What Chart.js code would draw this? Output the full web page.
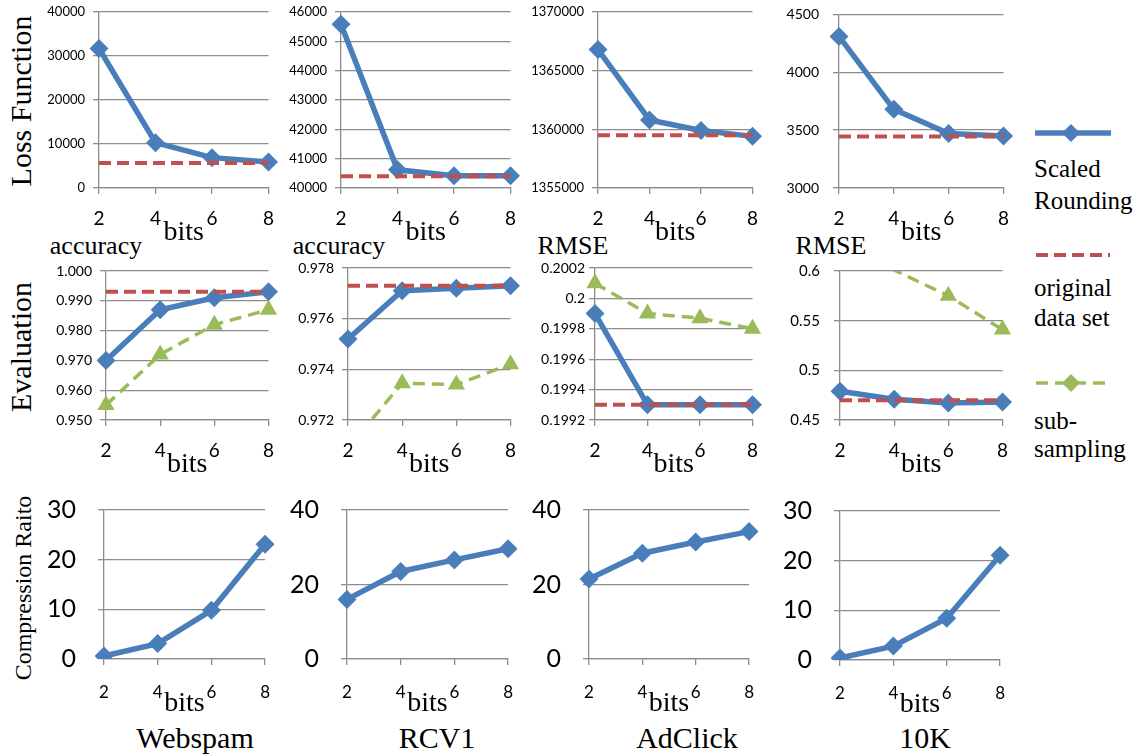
<!DOCTYPE html>
<html>
<head>
<meta charset="utf-8">
<script src="https://cdn.jsdelivr.net/npm/chart.js@4.4.0/dist/chart.umd.min.js"></script>
<style>
  body { margin: 0; width: 1143px; height: 755px; position: relative; overflow: hidden; background: #fff;
         font-family: "Liberation Serif", "Times New Roman", serif; color: #000; }
  canvas { position: absolute; }
  .c { position: absolute; transform: translate(-50%, -50%); white-space: nowrap; line-height: 1; }
  .rot { position: absolute; transform: translate(-50%, -50%) rotate(-90deg); white-space: nowrap; line-height: 1; }
  .lg { position: absolute; left: 1034px; white-space: nowrap; line-height: 1; font-size: 25px; transform: translateY(-50%); }
</style>
</head>
<body>

<div class="rot" style="left:21px;top:101px;font-size:30px">Loss Function</div>
<div class="rot" style="left:21px;top:347px;font-size:30px">Evaluation</div>
<div class="rot" style="left:23px;top:588px;font-size:24px">Compression Raito</div>

<div class="c" style="left:96px;top:246px;font-size:26px">accuracy</div>
<div class="c" style="left:339px;top:246px;font-size:26px">accuracy</div>
<div class="c" style="left:573px;top:246px;font-size:26px">RMSE</div>
<div class="c" style="left:831px;top:246px;font-size:26px">RMSE</div>

<div class="c" style="left:195px;top:738px;font-size:30px">Webspam</div>
<div class="c" style="left:437px;top:738px;font-size:30px">RCV1</div>
<div class="c" style="left:687px;top:738px;font-size:30px">AdClick</div>
<div class="c" style="left:925px;top:738px;font-size:30px">10K</div>

<svg style="position:absolute;left:1030px;top:0" width="113" height="460">
  <line x1="5" y1="133" x2="81" y2="133" stroke="#4a7ebb" stroke-width="5.5"/>
  <polygon points="41,124 50,133 41,142 32,133" fill="#4a7ebb"/>
  <line x1="6" y1="255" x2="80" y2="255" stroke="#c0504d" stroke-width="4" stroke-dasharray="12 6"/>
  <line x1="6" y1="383" x2="80" y2="383" stroke="#9bbb59" stroke-width="3.5" stroke-dasharray="12 7"/>
  <polygon points="41,374 50,383 41,392 32,383" fill="#9bbb59"/>
</svg>
<div class="lg" style="top:168px">Scaled</div>
<div class="lg" style="top:200px">Rounding</div>
<div class="lg" style="top:287px">original</div>
<div class="lg" style="top:317px">data set</div>
<div class="lg" style="top:420px">sub-</div>
<div class="lg" style="top:448px">sampling</div>

<script>
const bits = ['2', '4', '6', '8'];

// loss function
const lossWebspam = [31700, 10300, 6900, 5900];
const lossWebspamOrig = [5700, 5700, 5700, 5700];
const lossRcv1 = [45580, 40620, 40420, 40420];
const lossRcv1Orig = [40400, 40400, 40400, 40400];
const lossAdclick = [1366800, 1360800, 1359900, 1359400];
const lossAdclickOrig = [1359500, 1359500, 1359500, 1359500];
const loss10k = [4310, 3680, 3470, 3450];
const loss10kOrig = [3445, 3445, 3445, 3445];

// evaluation (accuracy / RMSE)
const evalWebspam = [0.970, 0.987, 0.991, 0.993];
const evalWebspamOrig = [0.993, 0.993, 0.993, 0.993];
const evalWebspamSub = [0.955, 0.972, 0.982, 0.987];
const evalRcv1 = [0.9752, 0.9771, 0.9772, 0.9773];
const evalRcv1Orig = [0.9773, 0.9773, 0.9773, 0.9773];
const evalRcv1Sub = [0.9709, 0.97345, 0.9734, 0.9742];
const evalAdclick = [0.1999, 0.1993, 0.1993, 0.1993];
const evalAdclickOrig = [0.1993, 0.1993, 0.1993, 0.1993];
const evalAdclickSub = [0.2001, 0.1999, 0.19987, 0.1998];
const eval10k = [0.479, 0.471, 0.467, 0.468];
const eval10kOrig = [0.470, 0.470, 0.470, 0.470];
const eval10kSub = [0.66, 0.601, 0.575, 0.541];

// compression ratio
const compWebspam = [0.6, 3.1, 9.8, 23.1];
const compRcv1 = [16.0, 23.5, 26.6, 29.6];
const compAdclick = [21.5, 28.4, 31.4, 34.2];
const comp10k = [0.4, 2.8, 8.4, 21.1];

const BLUE = '#4a7ebb', RED = '#c0504d', GREEN = '#9bbb59', GRID = '#8c8c8c';
const YW = 85, XH = 70, PT = 20, PR = 16;

const plain = v => String(v);
const fixed3 = v => v.toFixed(3);
const general = v => String(Number(v.toFixed(4)));

function scaled(data) {
  return { data, borderColor: BLUE, backgroundColor: BLUE, borderWidth: 5.5, pointStyle: 'rectRot',
    pointRadius: 9.5, pointHoverRadius: 9.5, pointBorderWidth: 0, order: 3 };
}
function original(data) {
  return { data, borderColor: RED, borderWidth: 4, borderDash: [12, 6], pointRadius: 0, pointHoverRadius: 0, order: 2 };
}
function subsample(data, extra) {
  return Object.assign({ data, borderColor: GREEN, backgroundColor: GREEN, borderWidth: 3.5, borderDash: [12, 7],
    pointStyle: 'triangle', pointRadius: 10, pointHoverRadius: 10, pointBorderWidth: 0, order: 1 }, extra || {});
}
const outside = { clip: { left: 12, right: 12, top: 0, bottom: 0 } };

function panel(box, datasets, y, x) {
  const [l, t, r, b] = box;
  const c = document.createElement('canvas');
  c.width = r - l + YW + PR;
  c.height = b - t + PT + XH;
  c.style.left = (l - YW) + 'px';
  c.style.top = (t - PT) + 'px';
  document.body.appendChild(c);
  new Chart(c, {
    type: 'line',
    data: { labels: bits, datasets },
    options: {
      responsive: false,
      animation: false,
      layout: { padding: { left: 0, top: PT, right: PR, bottom: 0 } },
      plugins: { legend: { display: false }, tooltip: { enabled: false } },
      scales: {
        x: {
          type: 'category', offset: false,
          ticks: { font: { family: 'Lato', size: x.size }, color: '#000', padding: x.pad, maxRotation: 0, autoSkip: false },
          grid: { drawOnChartArea: false, color: GRID, lineWidth: 1.3, tickLength: 6 },
          border: { color: GRID, width: 1.3 },
          title: { display: true, text: 'bits', color: '#000', font: { family: 'Liberation Serif', size: 28 },
            padding: { top: 0, bottom: 9 } },
          afterFit: s => { s.height = XH; }
        },
        y: {
          min: y.min, max: y.max,
          ticks: { stepSize: y.step, callback: y.fmt, font: { family: 'Lato', size: y.size }, color: '#000', padding: y.pad },
          grid: { color: GRID, lineWidth: 1.3, tickLength: 6 },
          border: { color: GRID, width: 1.3 },
          afterFit: s => { s.width = YW; }
        }
      }
    }
  });
}

const X12 = { size: 19, pad: 13 };
const X3 = { size: 17, pad: 17 };

// row 1: loss function
panel([99, 12, 271, 188], [scaled(lossWebspam), original(lossWebspamOrig)],
  { min: 0, max: 40000, step: 10000, fmt: plain, size: 13, pad: 8 }, X12);
panel([341, 12, 513, 188], [scaled(lossRcv1), original(lossRcv1Orig)],
  { min: 40000, max: 46000, step: 1000, fmt: plain, size: 13, pad: 8 }, X12);
panel([598, 12, 755, 188], [scaled(lossAdclick), original(lossAdclickOrig)],
  { min: 1355000, max: 1370000, step: 5000, fmt: plain, size: 13, pad: 8 }, X12);
panel([839, 12, 1006, 188], [scaled(loss10k), original(loss10kOrig)],
  { min: 3000, max: 4500, step: 500, fmt: plain, size: 14, pad: 14 }, X12);

// row 2: evaluation
panel([106, 271, 271, 420], [scaled(evalWebspam), original(evalWebspamOrig), subsample(evalWebspamSub)],
  { min: 0.95, max: 1.0, step: 0.01, fmt: fixed3, size: 14, pad: 8 }, X12);
panel([348, 268, 513, 420], [scaled(evalRcv1), original(evalRcv1Orig), subsample(evalRcv1Sub, outside)],
  { min: 0.972, max: 0.978, step: 0.002, fmt: fixed3, size: 14, pad: 8 }, X12);
panel([595, 268, 755, 420], [scaled(evalAdclick), original(evalAdclickOrig), subsample(evalAdclickSub)],
  { min: 0.1992, max: 0.2002, step: 0.0002, fmt: general, size: 14, pad: 4 }, X12);
panel([840, 268, 1005, 420], [scaled(eval10k), original(eval10kOrig),
  subsample(eval10kSub, Object.assign({ pointRadius: [0, 0, 10, 10] }, outside))],
  { min: 0.45, max: 0.6, step: 0.05, fmt: general, size: 15, pad: 14 }, X12);

// row 3: compression ratio
panel([104, 493, 271, 659], [scaled(compWebspam)],
  { min: 0, max: 30, step: 10, fmt: plain, size: 25, pad: 22 }, X3);
panel([347, 493, 514, 659], [scaled(compRcv1)],
  { min: 0, max: 40, step: 20, fmt: plain, size: 25, pad: 22 }, X3);
panel([589, 493, 755, 659], [scaled(compAdclick)],
  { min: 0, max: 40, step: 20, fmt: plain, size: 25, pad: 22 }, X3);
panel([840, 494, 1006, 660], [scaled(comp10k)],
  { min: 0, max: 30, step: 10, fmt: plain, size: 25, pad: 22 }, X3);
</script>
</body>
</html>
